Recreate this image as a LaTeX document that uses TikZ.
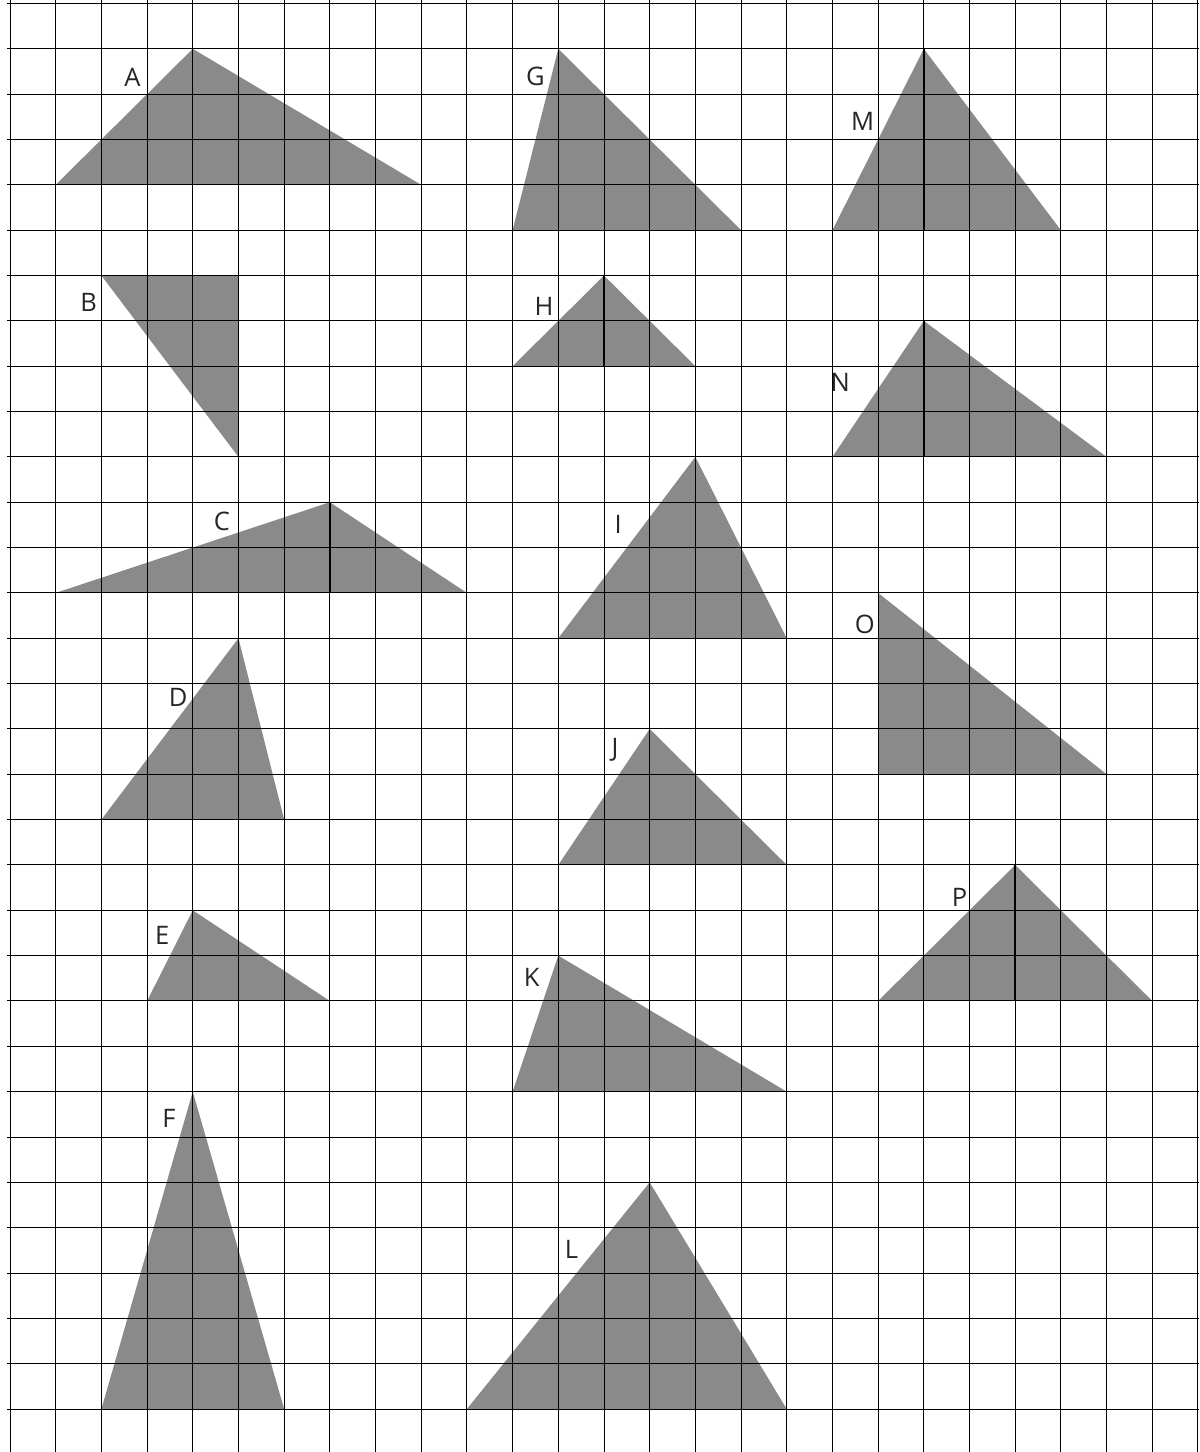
\documentclass[tikz,border=0pt]{standalone}
\usepackage{fontspec}
\setmainfont{Open Sans}

\tikzset{
  % ----- squared paper
  gridline/.style={draw=black, line width=0.6pt},
  % ----- the shaded triangles
  tri/.style={fill=black!46},
  altitude/.style={draw=black, line width=0.9pt},
  % ----- letters
  tag/.style={inner sep=0pt, text=black!85, font=\fontsize{16}{16}\selectfont}
}

\begin{document}
\begin{tikzpicture}[x=1.00772cm, y=1cm]
    \useasboundingbox (-0.219,0.077) rectangle (26.024,-31.948);

    % triangles: letter / apex / left corner / right corner / letter position
    \foreach \lab/\ax/\ay/\bx/\by/\cx/\cy/\lx/\ly in {
        A/4/1/1/4/9/4/2.68/1.64,
        B/2/6/5/6/5/10/1.72/6.6,
        C/7/11/1/13/10/13/4.64/11.43,
        D/5/14/2/18/6/18/3.68/15.3,
        E/4/20/3/22/7/22/3.33/20.55,
        F/4/24/2/31/6/31/3.48/24.58,
        G/12/1/11/5/16/5/11.5/1.61,
        H/13/6/11/8/15/8/11.69/6.69,
        I/15/10/12/14/17/14/13.31/11.5,
        J/14/16/12/19/17/19/13.24/16.46,
        K/12/21/11/24/17/24/11.42/21.49,
        L/14/26/10/31/17/31/12.29/27.49,
        M/20/1/18/5/23/5/18.66/2.6,
        N/20/7/18/10/24/10/18.17/8.35,
        O/19/13/19/17/24/17/18.71/13.69,
        P/22/19/19/22/25/22/20.78/19.72}{
        \fill[tri] (\ax,-\ay) -- (\bx,-\by) -- (\cx,-\cy) -- cycle;
        \node[tag] (lab-\lab) at (\lx,-\ly) {\lab};
    }

    % heights from the apex down to the base
    \foreach \x/\top/\bot in {4/1/4, 7/11/13, 5/14/18, 4/20/22, 4/24/31,
        12/1/5, 13/6/8, 15/10/14, 14/16/19, 12/21/24, 14/26/31,
        20/1/5, 20/7/10, 22/19/22}{
        \draw[altitude] (\x,-\top) -- (\x,-\bot);
    }

    % the grid on top
    \foreach \i in {0,...,26}{
        \draw[gridline] (\i,0.077) -- (\i,-31.948);
    }
    \foreach \j in {0,...,31}{
        \draw[gridline] (-0.066,-\j) -- (26.024,-\j);
    }
\end{tikzpicture}
\end{document}
